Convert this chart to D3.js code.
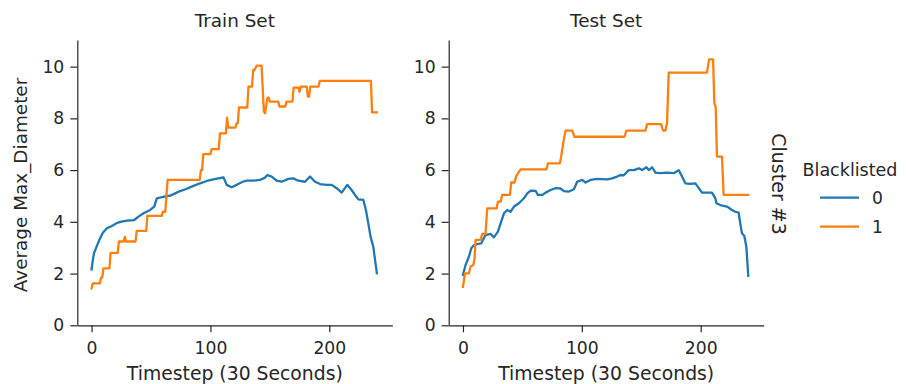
<!DOCTYPE html>
<html>
<head>
<meta charset="utf-8">
<script src="https://cdn.jsdelivr.net/npm/d3@7"></script>
<style>
  body { margin: 0; background: #fff; }
  svg { font-family: "DejaVu Sans", sans-serif; }
</style>
</head>
<body>
<svg id="chart"></svg>
<script>
// Panel titles, legend, axis ticks
const panelTitles = ["Train Set", "Test Set"];
const groups = ["0", "1"];
const colors = ["#1f77b4", "#ff7f0e"];
const xTicks = [0, 100, 200];
const yTicks = [0, 2, 4, 6, 8, 10];

// Train set, Blacklisted = 0 (timestep, value)
const trainT0 = [0, 1, 2, 4.5, 6.7, 9.5, 12.9, 17.1, 20.7, 24.1, 29.7, 35.9, 39.5, 43.7, 49.3, 52.7, 54.9, 60.5, 66.1, 70.3, 74.5, 80.1, 85.7, 91.3, 96.9, 102.5, 106.7, 111, 113.7, 117.9, 122.1, 127.2, 130.5, 136.1, 141.7, 145.9, 147.9, 151.5, 155.7, 159.9, 165.5, 169.7, 173.9, 179.6, 183.8, 188, 192.2, 197.8, 202, 206.2, 210.4, 215.1, 218.8, 221.6, 224.4, 228.6, 230.8, 232.8, 234.7, 237, 240];
const trainV0 = [2.16, 2.5, 2.78, 3.07, 3.32, 3.58, 3.75, 3.84, 3.94, 4.0, 4.05, 4.07, 4.2, 4.33, 4.46, 4.59, 4.91, 4.97, 5.01, 5.1, 5.19, 5.28, 5.39, 5.49, 5.58, 5.64, 5.68, 5.72, 5.43, 5.34, 5.43, 5.55, 5.59, 5.59, 5.62, 5.71, 5.81, 5.75, 5.59, 5.55, 5.66, 5.68, 5.59, 5.55, 5.75, 5.55, 5.46, 5.43, 5.43, 5.3, 5.13, 5.43, 5.23, 5.04, 4.87, 4.85, 4.46, 3.94, 3.43, 3.04, 2.01];

// Train set, Blacklisted = 1
const trainT1 = [0, 1, 7, 8, 9, 10, 15, 16, 22, 23, 27, 28, 29, 37, 38, 46, 47, 59, 60, 62, 64, 91, 92, 93, 94, 100, 101, 107, 108, 113, 114, 115, 121, 122, 123, 124, 131, 132, 135, 136, 137, 139, 143, 145, 146, 148, 149, 150, 157, 158, 163, 164, 169, 170, 174, 175, 176, 181, 182, 183, 184, 191, 192, 235, 236, 240];
const trainV1 = [1.43, 1.62, 1.62, 1.84, 1.84, 2.2, 2.2, 2.8, 2.8, 3.24, 3.24, 3.42, 3.24, 3.24, 3.65, 3.65, 4.23, 4.23, 4.39, 4.39, 5.62, 5.62, 6.0, 6.0, 6.62, 6.62, 6.81, 6.81, 7.42, 7.42, 8.03, 7.64, 7.64, 7.81, 7.81, 8.42, 8.42, 9.23, 9.23, 9.87, 9.87, 10.04, 10.04, 8.26, 8.2, 8.8, 8.8, 8.65, 8.65, 8.46, 8.46, 8.65, 8.65, 9.19, 9.19, 9.03, 9.23, 9.23, 8.84, 8.84, 9.23, 9.23, 9.45, 9.45, 8.23, 8.23];

// Test set, Blacklisted = 0
const testT0 = [0, 2.2, 5, 7, 9.2, 12, 15.4, 19, 23.2, 26, 29.4, 31.7, 34.5, 37.3, 40, 42.9, 47.1, 51.3, 54.1, 56.9, 61.1, 63, 66.7, 69.5, 73.7, 77.9, 82.1, 84.9, 89.1, 93.3, 96.1, 100.3, 103.1, 107.3, 112.9, 121.3, 125.5, 129.7, 132.5, 135.3, 139.5, 143.7, 147.9, 150.7, 154.3, 156.3, 159.1, 161.9, 166.1, 171.7, 177.3, 181.5, 184.3, 187.1, 191.3, 195.5, 197.5, 201.1, 209.5, 212.3, 213.2, 216.5, 222.1, 226.3, 229.1, 231.9, 233.3, 234.7, 236.7, 238.4, 240];
const testV0 = [1.95, 2.33, 2.65, 2.98, 3.1, 3.14, 3.17, 3.49, 3.53, 3.4, 3.62, 3.94, 4.33, 4.46, 4.39, 4.59, 4.72, 4.91, 5.1, 5.21, 5.2, 5.04, 5.04, 5.13, 5.23, 5.3, 5.29, 5.19, 5.17, 5.26, 5.55, 5.62, 5.52, 5.62, 5.66, 5.64, 5.68, 5.75, 5.81, 5.8, 6.0, 6.0, 6.07, 6.0, 6.11, 6.0, 6.11, 5.9, 5.88, 5.9, 5.88, 6.0, 5.75, 5.49, 5.47, 5.49, 5.36, 5.13, 5.13, 4.91, 4.72, 4.65, 4.59, 4.46, 4.39, 4.36, 3.94, 3.56, 3.45, 3.04, 1.91];

// Test set, Blacklisted = 1
const testT1 = [0, 1.7, 5, 6.4, 8.7, 9.8, 10.6, 14.8, 16.2, 19, 20.4, 28.3, 29.4, 31.7, 33, 39.5, 40.6, 43.4, 44.8, 48.5, 70.3, 71.4, 81.5, 82.6, 84.3, 86.3, 91.9, 93.8, 135.9, 137.5, 153.5, 154.9, 166.7, 168.3, 170.3, 171.7, 173.1, 205.3, 207, 210.4, 211.5, 212.6, 213.7, 217.9, 219.3, 240];
const testV1 = [1.49, 2.01, 2.01, 2.27, 2.33, 2.59, 3.3, 3.3, 3.53, 3.53, 4.52, 4.52, 4.78, 4.78, 5.04, 5.04, 5.52, 5.52, 5.77, 6.03, 6.03, 6.26, 6.26, 6.52, 7.04, 7.53, 7.53, 7.29, 7.29, 7.53, 7.53, 7.78, 7.78, 7.53, 7.53, 7.81, 9.77, 9.77, 10.28, 10.28, 8.58, 8.45, 6.52, 6.52, 5.04, 5.04];

const panels = [
  { title: panelTitles[0], x0: 77.3, series: [[trainT0, trainV0], [trainT1, trainV1]] },
  { title: panelTitles[1], x0: 448.7, series: [[testT0, testV0], [testT1, testV1]] }
];

// Chart Dimensions
const width = 906;
const height = 384;
const panelWidth = 315;
const plotTop = 40;
const plotBottom = 325.3;
const ink = "#262626";

const svg = d3.select("#chart").attr("width", width).attr("height", height);

const yScale = d3.scaleLinear().domain([0, 11.03]).range([plotBottom, plotTop]);

const line = (xScale) =>
  d3.line().x((d) => xScale(d[0])).y((d) => yScale(d[1]));

panels.forEach((p) => {
  const xScale = d3.scaleLinear().domain([-12, 253]).range([p.x0, p.x0 + panelWidth]);

  const g = svg.append("g");

  // Lines
  p.series.forEach(([ts, vs], si) => {
    g.append("path")
      .datum(ts.map((t, i) => [t, vs[i]]))
      .attr("fill", "none")
      .attr("stroke", colors[si])
      .attr("stroke-width", 2.3)
      .attr("stroke-linejoin", "round")
      .attr("stroke-linecap", "square")
      .attr("d", line(xScale));
  });

  // Axes
  const xAxis = g.append("g")
    .attr("transform", `translate(0, ${plotBottom})`)
    .call(d3.axisBottom(xScale).tickValues(xTicks).tickSize(7).tickPadding(9).tickSizeOuter(0));
  const yAxis = g.append("g")
    .attr("transform", `translate(${p.x0}, 0)`)
    .call(d3.axisLeft(yScale).tickValues(yTicks).tickSize(7).tickPadding(6).tickSizeOuter(0));

  [xAxis, yAxis].forEach((a) => {
    a.select(".domain").attr("stroke", ink).attr("stroke-width", 1.2);
    a.selectAll(".tick line").attr("stroke", ink).attr("stroke-width", 1.2);
    a.selectAll(".tick text").attr("fill", ink).style("font-size", "17.2px")
      .style("font-family", "DejaVu Sans");
  });

  // Title
  g.append("text")
    .attr("x", p.x0 + panelWidth / 2)
    .attr("y", 27)
    .attr("text-anchor", "middle")
    .attr("fill", ink)
    .style("font-size", "18.4px")
    .text(p.title);

  // X label
  g.append("text")
    .attr("x", p.x0 + panelWidth / 2)
    .attr("y", 380)
    .attr("text-anchor", "middle")
    .attr("fill", ink)
    .style("font-size", "18.8px")
    .text("Timestep (30 Seconds)");
});

// Y label
svg.append("text")
  .attr("transform", `translate(27, 185) rotate(-90)`)
  .attr("text-anchor", "middle")
  .attr("fill", ink)
  .style("font-size", "18.4px")
  .text("Average Max_Diameter");

// Row label
svg.append("text")
  .attr("transform", `translate(772, 184) rotate(90)`)
  .attr("text-anchor", "middle")
  .attr("fill", ink)
  .style("font-size", "19px")
  .text("Cluster #3");

// Legend
const legend = svg.append("g");
legend.append("text")
  .attr("x", 850)
  .attr("y", 176)
  .attr("text-anchor", "middle")
  .attr("fill", ink)
  .style("font-size", "17.5px")
  .text("Blacklisted");

groups.forEach((gName, i) => {
  const y = 197.7 + i * 29;
  legend.append("line")
    .attr("x1", 820).attr("x2", 859)
    .attr("y1", y).attr("y2", y)
    .attr("stroke", colors[i])
    .attr("stroke-width", 2.3);
  legend.append("text")
    .attr("x", 872)
    .attr("y", y + 6)
    .attr("fill", ink)
    .style("font-size", "17.2px")
    .text(gName);
});
</script>
</body>
</html>
